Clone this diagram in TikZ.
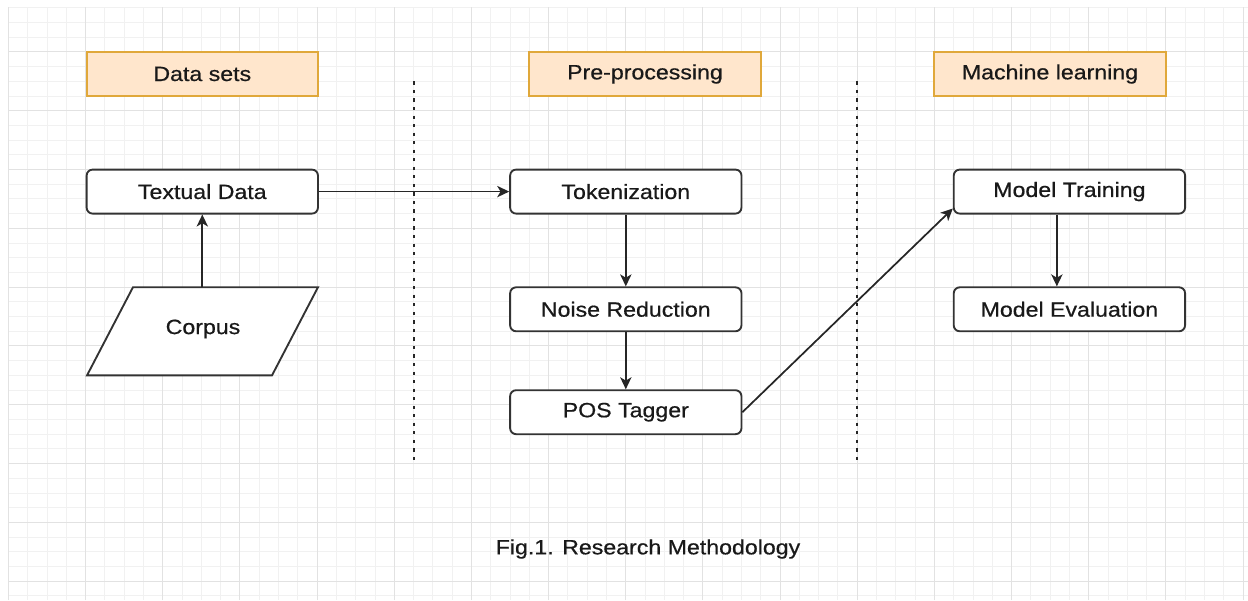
\documentclass[tikz,border=0pt]{standalone}
\usepackage{fontspec}
\setmainfont{Liberation Sans}[FakeStretch=1.12,FakeBold=0.6]
\usepackage{tikz}
\usetikzlibrary{calc}
\usetikzlibrary{arrows.meta}

\definecolor{headfill}{HTML}{FFE6CC}
\definecolor{headline}{HTML}{E0A83A}
\definecolor{minorline}{HTML}{F1F1F1}
\definecolor{majorline}{HTML}{E2E2E2}

\begin{document}
\begin{tikzpicture}[x=0.75pt,y=0.75pt,
    every node/.style={font=\fontsize{15.5}{18}\selectfont, text=black!90},
    stagebox/.style={draw=headline, fill=headfill, line width=1.4pt, minimum width=173.5pt, minimum height=33pt, inner sep=0pt},
    stepbox/.style={draw=black!80, fill=white, rounded corners=4.5pt, line width=1.4pt, minimum width=173.5pt, minimum height=33pt, inner sep=0pt},
    flow/.style={line width=1.3pt, black!85, -{Stealth[length=9pt,width=8.5pt,inset=2.5pt]}},
    divider/.style={line width=1.6pt, black!85, dash pattern=on 2.4pt off 4pt},
    minorgrid/.style={minorline, line width=0.75pt},
    majorgrid/.style={majorline, line width=0.75pt}]

            % Fix the page size
            \useasboundingbox (0,0) rectangle (1248,600);

            % Draw the background grid
            \begin{scope}
                \clip (8,0) rectangle (1248,592);
                \foreach \i in {0,...,64}
                    \draw[minorgrid] ({8.5+19.29*\i},0) -- ++(0,600);
                \foreach \j in {0,...,40}
                    \draw[minorgrid] (0,{592.1-14.7*\j}) -- ++(1248,0);
                \foreach \i in {0,...,16}
                    \draw[majorgrid] ({8.5+77.16*\i},0) -- ++(0,600);
                \foreach \j in {0,...,9}
                    \draw[majorgrid] (0,{548-58.8*\j}) -- ++(1248,0);
            \end{scope}

            % Draw the stage headers
            \node[stagebox] (datasets) at (202.3,526) {Data sets};
            \node[stagebox] (preproc) at (645,526) {Pre-processing};
            \node[stagebox] (mlearn) at (1050,526) {Machine learning};

            % Draw the dividers between stages
            \draw[divider] (413.6,518.6) -- (413.6,136.4);
            \draw[divider] (857.3,518.6) -- (857.3,136.4);

            % Draw the process steps
            \node[stepbox] (textual) at (202.3,408.4) {Textual Data};
            \node[stepbox] (token) at (625.8,408.4) {Tokenization};
            \node[stepbox] (noise) at (625.8,290.7) {Noise Reduction};
            \node[stepbox] (postag) at (625.8,187.8) {POS Tagger};
            \node[stepbox] (mtrain) at (1069.4,408.4) {Model Training};
            \node[stepbox] (meval) at (1069.4,290.7) {Model Evaluation};

            % Draw the corpus input
            \coordinate (CBL) at (87,224.6);
            \coordinate (CBR) at (272,224.6);
            \coordinate (CTR) at (318,312.8);
            \coordinate (CTL) at (133,312.8);
            \draw[line width=1.4pt, draw=black!80, fill=white] (CBL) -- (CBR) -- (CTR) -- (CTL) -- cycle;
            \node (corpus) at (203,271) {Corpus};
            \coordinate (corpustop) at (textual.south |- CTL);

            % Draw the flow arrows
            \draw[flow] (corpustop) -- (textual.south);
            \draw[flow] (textual.east) -- (token.west);
            \draw[flow] (token.south) -- (noise.north);
            \draw[flow] (noise.south) -- (postag.north);
            \draw[flow] (postag.east) -- ($(mtrain.south west)+(0,6)$);
            \draw[flow] ([xshift=-9.4pt]mtrain.south) -- ([xshift=-9.4pt]meval.north);

            % Caption
            \node (caption) at (648,51) {Fig.1. Research Methodology};

        \end{tikzpicture}
\end{document}
